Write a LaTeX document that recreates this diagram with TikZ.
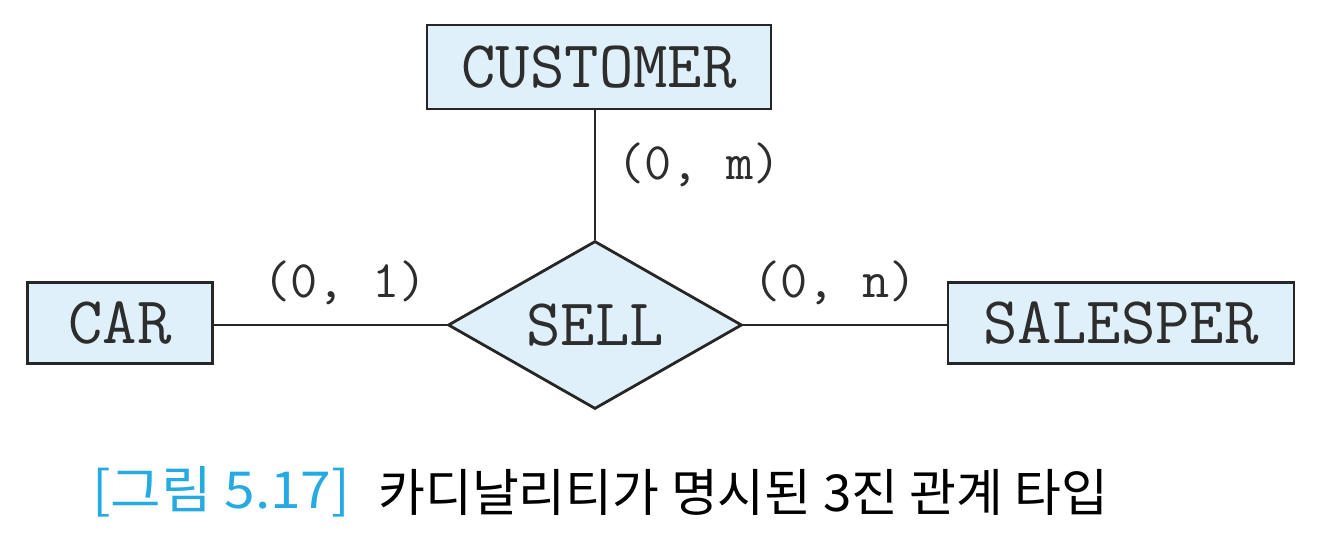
\documentclass[tikz,border=0pt]{standalone}
\usepackage{fontspec}
\newfontfamily\kr{Noto Sans CJK KR}
\newfontfamily\krb{Noto Sans CJK KR}[FakeStretch=1.08]
\usetikzlibrary{shapes.geometric}
\definecolor{boxfill}{RGB}{223,240,250}
\definecolor{capblue}{RGB}{38,170,226}
\definecolor{txt}{RGB}{45,45,45}
\tikzset{
  ent/.style={draw=black!85, line width=1.6pt, fill=boxfill, inner sep=0pt, font=\ttfamily\fontsize{38}{38}\selectfont, text=txt},
  rel/.style={diamond, aspect=1.73, draw=black!85, line width=1.6pt, fill=boxfill, inner sep=0pt, minimum width=5.88cm, minimum height=3.36cm, font=\ttfamily\fontsize{38}{38}\selectfont, text=txt},
  conn/.style={draw=black!85, line width=1.6pt},
  card/.style={font=\ttfamily\fontsize{30}{30}\selectfont, text=txt, inner sep=0pt},
}
\begin{document}
\begin{tikzpicture}[x=0.02cm,y=-0.02cm]
\useasboundingbox (0,0) rectangle (1320,544);
\node[ent, minimum width=6.88cm, minimum height=1.68cm] (cust) at (599,67) {CUSTOMER};
\node[ent, minimum width=3.7cm, minimum height=1.62cm] (car) at (120,323) {CAR};
\node[ent, minimum width=6.92cm, minimum height=1.62cm] (sales) at (1121,323) {SALESPER};
\node[rel] (sell) at (595,325) {SELL};
\draw[conn] (sell.north) -- (sell.north |- cust.south);
\draw[conn] (car.east |- sell.west) -- (sell.west);
\draw[conn] (sell.east) -- (sales.west |- sell.east);
\node[card] (lm) at (699,165) {(0, m)};
\node[card] (l1) at (345,283) {(0, 1)};
\node[card] (ln) at (835,283) {(0, n)};
\node[anchor=west, inner sep=0pt, font=\krb\fontsize{29}{29}\selectfont, text=capblue] (capnum) at (92,492) {[그림 5.17]};
\node[anchor=west, inner sep=0pt, font=\kr\fontsize{29}{29}\selectfont, text=black] (captxt) at (378,492) {카디날리티가 명시된 3진 관계 타입};
\end{tikzpicture}
\end{document}
